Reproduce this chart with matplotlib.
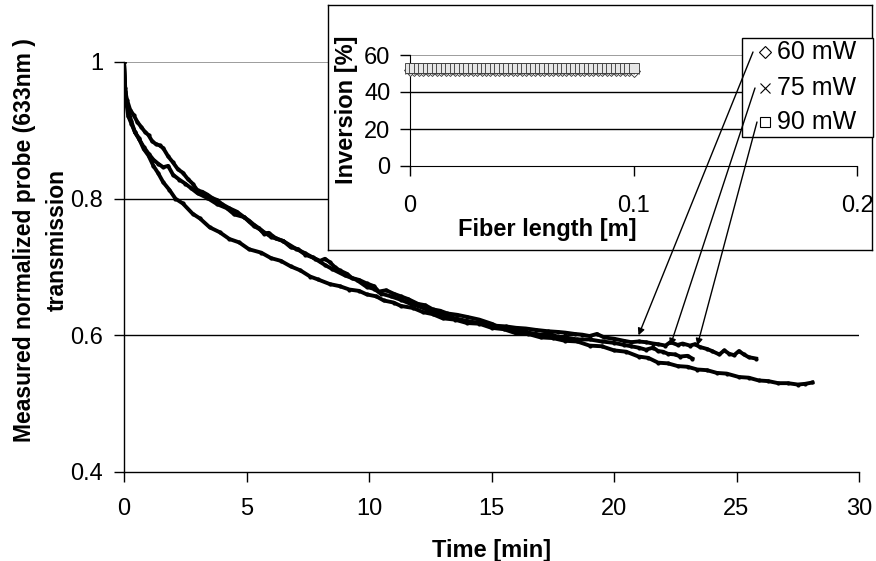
import matplotlib
matplotlib.use('Agg')
import matplotlib.pyplot as plt
from matplotlib.patches import Rectangle

plt.rcParams['font.family'] = ['Liberation Sans', 'DejaVu Sans']

# main curves: normalized probe transmission vs time
t_60 = [0, 0.05, 0.1, 0.17, 0.3, 0.45, 0.6, 0.8, 1.0, 1.2,
        1.4, 1.6, 1.8, 2.0, 2.25, 2.5, 2.75, 3.0, 3.4, 3.8,
        4.2, 4.5, 4.9, 5.3, 5.6, 6.0, 6.5, 7.0, 7.4, 7.8,
        8.2, 8.5, 9.0, 9.5, 9.9, 10.2, 10.5, 10.9, 11.3, 11.7,
        12.0, 12.4, 12.8, 13.2, 13.5, 14.0, 14.5, 15.0, 15.5, 16.0,
        16.5, 17.0, 17.3, 17.7, 18.0, 18.5, 19.0, 19.5, 20.0, 20.4,
        20.7, 21.0, 21.3, 21.6, 21.8, 22.0, 22.2, 22.5, 22.7, 23.0,
        23.2]
y_60 = [1.0, 0.962, 0.940, 0.921, 0.910, 0.897, 0.888, 0.876, 0.866, 0.857,
        0.851, 0.846, 0.848, 0.835, 0.828, 0.822, 0.815, 0.808, 0.801, 0.792,
        0.786, 0.777, 0.773, 0.760, 0.754, 0.744, 0.738, 0.727, 0.720, 0.712,
        0.703, 0.697, 0.688, 0.681, 0.671, 0.668, 0.661, 0.657, 0.652, 0.646,
        0.643, 0.637, 0.632, 0.628, 0.625, 0.621, 0.618, 0.613, 0.611, 0.607,
        0.604, 0.601, 0.603, 0.598, 0.597, 0.594, 0.594, 0.591, 0.589, 0.586,
        0.584, 0.582, 0.579, 0.582, 0.577, 0.576, 0.573, 0.572, 0.569, 0.570,
        0.566]

t_75 = [0, 0.05, 0.12, 0.25, 0.4, 0.55, 0.7, 0.85, 1.0, 1.15,
        1.3, 1.45, 1.6, 1.8, 2.0, 2.2, 2.4, 2.6, 2.8, 3.0,
        3.2, 3.4, 3.6, 3.8, 4.0, 4.3, 4.6, 4.9, 5.1, 5.3,
        5.5, 5.7, 5.9, 6.2, 6.5, 6.8, 7.1, 7.4, 7.7, 8.0,
        8.2, 8.4, 8.6, 8.8, 9.1, 9.3, 9.6, 9.9, 10.2, 10.4,
        10.7, 11.0, 11.3, 11.6, 12.0, 12.3, 12.6, 12.9, 13.2, 13.6,
        14.0, 14.5, 15.0, 15.2, 15.6, 16.0, 16.4, 16.8, 17.3, 17.7,
        18.0, 18.4, 18.7, 19.0, 19.3, 19.6, 20.0, 20.4, 20.7, 21.0,
        21.3, 21.6, 21.8, 22.1, 22.3, 22.6, 22.8, 23.1, 23.3, 23.5,
        23.8, 24.0, 24.3, 24.5, 24.7, 24.9, 25.1, 25.3, 25.5, 25.8]
y_75 = [1.0, 0.958, 0.945, 0.930, 0.922, 0.912, 0.905, 0.898, 0.893, 0.884,
        0.880, 0.878, 0.874, 0.862, 0.853, 0.843, 0.838, 0.829, 0.822, 0.812,
        0.810, 0.806, 0.801, 0.798, 0.792, 0.786, 0.781, 0.773, 0.768, 0.762,
        0.757, 0.749, 0.750, 0.742, 0.738, 0.729, 0.726, 0.718, 0.714, 0.709,
        0.712, 0.707, 0.700, 0.695, 0.690, 0.684, 0.681, 0.676, 0.672, 0.664,
        0.666, 0.661, 0.657, 0.653, 0.646, 0.644, 0.638, 0.636, 0.632, 0.630,
        0.627, 0.623, 0.617, 0.614, 0.613, 0.611, 0.610, 0.608, 0.606, 0.605,
        0.604, 0.602, 0.601, 0.599, 0.602, 0.597, 0.595, 0.592, 0.590, 0.591,
        0.590, 0.588, 0.587, 0.585, 0.590, 0.586, 0.588, 0.585, 0.587, 0.583,
        0.580, 0.577, 0.572, 0.578, 0.573, 0.571, 0.577, 0.572, 0.568, 0.566]

t_90 = [0, 0.05, 0.15, 0.3, 0.45, 0.6, 0.8, 1.0, 1.2, 1.4,
        1.6, 1.85, 2.1, 2.4, 2.8, 3.1, 3.5, 3.9, 4.3, 4.7,
        5.1, 5.6, 6.0, 6.4, 6.8, 7.2, 7.6, 7.9, 8.4, 8.8,
        9.2, 9.6, 9.9, 10.3, 10.6, 11.0, 11.3, 11.8, 12.2, 12.6,
        13.0, 13.5, 14.0, 14.5, 15.0, 15.5, 16.0, 16.5, 17.0, 17.5,
        18.0, 18.5, 19.0, 19.5, 20.0, 20.5, 21.0, 21.4, 21.8, 22.2,
        22.6, 23.0, 23.4, 23.8, 24.2, 24.6, 25.1, 25.5, 25.9, 26.3,
        26.7, 27.1, 27.5, 27.8, 28.1]
y_90 = [1.0, 0.955, 0.934, 0.913, 0.897, 0.889, 0.873, 0.863, 0.848, 0.837,
        0.824, 0.813, 0.800, 0.793, 0.778, 0.771, 0.758, 0.751, 0.741, 0.736,
        0.726, 0.721, 0.713, 0.709, 0.701, 0.695, 0.686, 0.682, 0.675, 0.672,
        0.667, 0.665, 0.660, 0.657, 0.651, 0.648, 0.643, 0.640, 0.634, 0.631,
        0.625, 0.623, 0.618, 0.617, 0.611, 0.609, 0.603, 0.602, 0.597, 0.596,
        0.592, 0.591, 0.585, 0.584, 0.578, 0.576, 0.569, 0.567, 0.560, 0.559,
        0.555, 0.554, 0.550, 0.549, 0.545, 0.544, 0.539, 0.538, 0.534, 0.533,
        0.530, 0.530, 0.528, 0.529, 0.531]

# inset: inversion along the fiber
fiber_len = [0.000, 0.002, 0.004, 0.006, 0.008, 0.010, 0.012, 0.014, 0.016, 0.018,
             0.020, 0.022, 0.024, 0.026, 0.028, 0.030, 0.032, 0.034, 0.036, 0.038,
             0.040, 0.042, 0.044, 0.046, 0.048, 0.050, 0.052, 0.054, 0.056, 0.058,
             0.060, 0.062, 0.064, 0.066, 0.068, 0.070, 0.072, 0.074, 0.076, 0.078,
             0.080, 0.082, 0.084, 0.086, 0.088, 0.090, 0.092, 0.094, 0.096, 0.098,
             0.100]
inv_60 = [52.0, 52.0, 52.0, 52.0, 52.0, 52.0, 52.0, 52.0, 52.0, 52.0,
          52.0, 52.0, 52.0, 52.0, 52.0, 52.0, 52.0, 52.0, 52.0, 52.0,
          52.0, 52.0, 52.0, 52.0, 52.0, 52.0, 52.0, 52.0, 52.0, 52.0,
          51.9, 51.9, 51.9, 51.9, 51.9, 51.9, 51.9, 51.9, 51.9, 51.9,
          51.8, 51.8, 51.8, 51.8, 51.8, 51.7, 51.7, 51.7, 51.7, 51.7,
          51.6]
inv_75 = [52.6, 52.6, 52.6, 52.6, 52.6, 52.6, 52.6, 52.6, 52.6, 52.6,
          52.6, 52.6, 52.6, 52.6, 52.6, 52.6, 52.6, 52.6, 52.6, 52.6,
          52.6, 52.6, 52.6, 52.6, 52.6, 52.6, 52.6, 52.6, 52.6, 52.6,
          52.5, 52.5, 52.5, 52.5, 52.5, 52.5, 52.5, 52.5, 52.5, 52.5,
          52.4, 52.4, 52.4, 52.4, 52.4, 52.4, 52.4, 52.4, 52.4, 52.4,
          52.3]
inv_90 = [53.0, 53.0, 53.0, 53.0, 53.0, 53.0, 53.0, 53.0, 53.0, 53.0,
          53.0, 53.0, 53.0, 53.0, 53.0, 53.0, 53.0, 53.0, 53.0, 53.0,
          53.0, 53.0, 53.0, 53.0, 53.0, 53.0, 53.0, 53.0, 53.0, 53.0,
          53.0, 53.0, 53.0, 53.0, 53.0, 53.0, 53.0, 53.0, 53.0, 53.0,
          53.0, 53.0, 53.0, 53.0, 53.0, 53.0, 53.0, 53.0, 53.0, 53.0,
          53.0]

legend_labels = ['60 mW', '75 mW', '90 mW']
legend_markers = ['D', 'x', 's']
# where each legend arrow points on the main chart (time, transmission)
arrow_tips = [(21.0, 0.600), (22.3, 0.585), (23.4, 0.585)]

W, H = 876, 561


def px(x0, y0, x1, y1):
    # pixel box (top-left origin) -> figure fraction rect
    return [x0 / W, 1 - y1 / H, (x1 - x0) / W, (y1 - y0) / H]


fig = plt.figure(figsize=(W / 100, H / 100), dpi=100)

# ---- main chart ----
ax = fig.add_axes(px(124, 62, 859, 472))
for t, y in [(t_60, y_60), (t_75, y_75), (t_90, y_90)]:
    ax.plot(t, y, color='black', lw=2.8, marker='.', ms=4,
            solid_joinstyle='round', zorder=3)
ax.set_xlim(0, 30)
ax.set_ylim(0.4, 1.0)
ax.set_xticks([0, 5, 10, 15, 20, 25, 30])
ax.set_yticks([0.4, 0.6, 0.8, 1.0])
ax.set_yticklabels(['0.4', '0.6', '0.8', '1'])
ax.axhline(0.6, color='black', lw=1, zorder=1)
ax.axhline(0.8, color='black', lw=1, zorder=1)
ax.axhline(1.0, color='#8c8c8c', lw=1.2, zorder=1)
for s in ['top', 'right']:
    ax.spines[s].set_visible(False)
for s in ['left', 'bottom']:
    ax.spines[s].set_linewidth(1)
ax.tick_params(axis='x', direction='out', length=7, width=1, labelsize=17, pad=12)
ax.tick_params(axis='y', direction='out', length=7, width=1, labelsize=17, pad=8)

fig.text(41 / W, 1 - 240 / H, 'Measured normalized probe (633nm )\ntransmission',
         rotation=90, ha='center', va='center', multialignment='center',
         fontsize=16.5, fontweight='bold', linespacing=1.55)
fig.text(492 / W, 1 - 551 / H, 'Time [min]', ha='center', va='center',
         fontsize=17, fontweight='bold')

# ---- inset frame ----
box = fig.add_axes(px(328, 5, 872, 250))
box.set_xticks([])
box.set_yticks([])
box.set_facecolor('white')
for s in box.spines.values():
    s.set_linewidth(1)

# ---- inset chart ----
axi = fig.add_axes(px(410, 55, 857, 166))
axi.patch.set_alpha(0)
axi.set_xlim(0, 0.2)
axi.set_ylim(0, 60)
axi.set_xticks([0, 0.1, 0.2])
axi.set_xticklabels(['0', '0.1', '0.2'])
axi.set_yticks([0, 20, 40, 60])
axi.axhline(20, color='black', lw=1, zorder=1)
axi.axhline(40, color='black', lw=1, zorder=1)
axi.axhline(60, color='#8c8c8c', lw=1.2, zorder=1)
for s in ['top', 'right']:
    axi.spines[s].set_visible(False)
axi.tick_params(axis='x', direction='out', length=7, width=1, labelsize=17, pad=14)
axi.tick_params(axis='y', direction='out', length=7, width=1, labelsize=17, pad=7)
axi.plot(fiber_len, inv_60, 'D', ms=6, mfc='white', mec='#333333', mew=0.6, clip_on=False, zorder=3)
axi.plot(fiber_len, inv_75, 'x', ms=7, mec='#333333', mew=0.6, clip_on=False, zorder=3)
axi.plot(fiber_len, inv_90, 's', ms=7.5, mfc='#e6e6e6', mec='#333333', mew=0.6, clip_on=False, zorder=4)

fig.text(347 / W, 1 - 110 / H, 'Inversion [%]', rotation=90, ha='center', va='center',
         fontsize=17, fontweight='bold')
fig.text(547 / W, 1 - 230 / H, 'Fiber length [m]', ha='center', va='center',
         fontsize=17, fontweight='bold')

# ---- legend and arrows (pixel overlay) ----
ov = fig.add_axes([0, 0, 1, 1])
ov.set_xlim(0, W)
ov.set_ylim(H, 0)
ov.axis('off')
ov.patch.set_alpha(0)
ov.add_patch(Rectangle((742, 38), 131, 99, facecolor='white', edgecolor='black', lw=1))
rows = [52, 88, 122]
for lab, mk, yr in zip(legend_labels, legend_markers, rows):
    ov.plot([765], [yr], mk, ms=7.5 if mk != 'D' else 6, mfc='white', mec='black', mew=0.8)
    ov.text(777, yr, lab, ha='left', va='center', fontsize=18)
starts = [(753, 52), (755, 88), (757, 122)]
for (sx, sy), tip in zip(starts, arrow_tips):
    ov.annotate('', xy=tip, xycoords=ax.transData, xytext=(sx, sy), textcoords='data',
                arrowprops=dict(arrowstyle='-|>', color='black', lw=1,
                                mutation_scale=10, shrinkA=0, shrinkB=0))

fig.savefig('out.png', dpi=100)
